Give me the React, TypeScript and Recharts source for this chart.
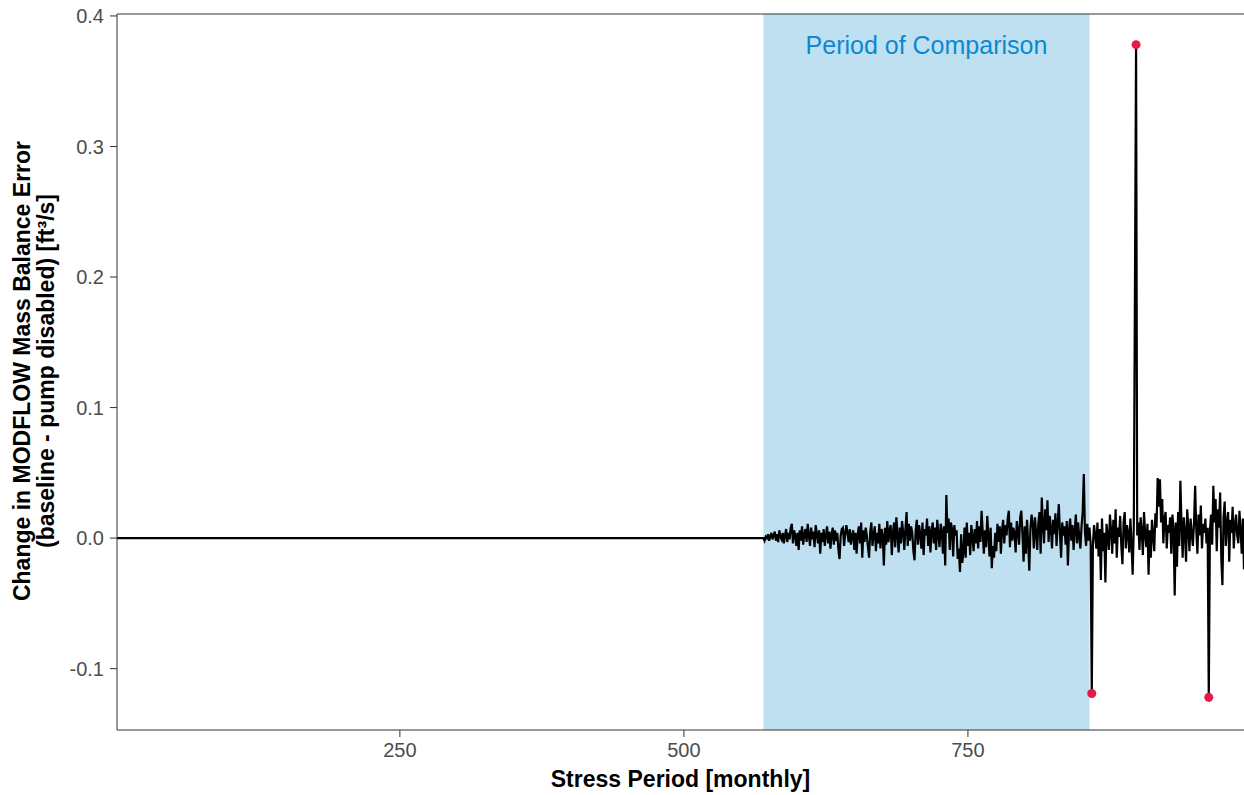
import React from 'react';
import { ComposedChart, Line, Scatter, XAxis, YAxis, ReferenceArea, ReferenceLine } from 'recharts';

// stress periods 1..569 are flat at zero, the noisy record starts at 570
const FLAT_PERIODS = [1, 569];
const NOISE_START = 570;

// change in mass balance error [ft3/s], one value per stress period from 570
const noiseValues = [
  0, -0.002, 0.001, 0.0, 0.003, -0.002, 0.001, 0.004, -0.001, 0.002,
  0.005, -0.002, 0.003, -0.003, 0.006, 0.001, -0.001, 0.004, -0.004, 0.002,
  0.007, -0.003, 0.004, -0.001, 0.008, 0.011, -0.004, 0.006, 0.002, -0.006,
  0.004, -0.009, 0.006, -0.002, 0.009, -0.005, 0.003, 0.007, -0.003, 0.011,
  0.002, -0.006, 0.008, -0.001, 0.005, -0.007, 0.01, 0.003, -0.004, 0.006,
  -0.012, 0.004, -0.003, 0.007, -0.006, 0.002, 0.009, -0.004, 0.005, -0.008,
  0.003, 0.008, -0.005, 0.006, -0.002, 0.004, -0.009, -0.016, 0.002, 0.007,
  0.008, -0.006, 0.003, 0.01, 0.004, -0.003, 0.007, -0.005, 0.002, 0.006,
  -0.009, 0.004, -0.012, 0.003, 0.009, -0.004, 0.012, -0.015, 0.006, -0.003,
  0.008, 0.002, -0.007, -0.015, 0.005, 0.012, -0.006, 0.003, 0.009, -0.01,
  0.004, -0.004, 0.011, -0.008, 0.007, 0.002, -0.021, 0.008, -0.005, 0.013,
  -0.003, 0.006, 0.01, -0.013, 0.004, 0.012, -0.007, 0.016, 0.003, -0.011,
  0.008, -0.004, 0.013, 0.005, -0.009, 0.007, 0.02, -0.006, 0.011, -0.002,
  0.009, 0.004, -0.01, -0.017, 0.006, 0.014, -0.005, 0.01, 0.003, -0.008,
  0.012, -0.013, 0.007, 0.002, 0.015, -0.006, 0.009, -0.011, 0.005, 0.012,
  -0.004, 0.008, -0.009, 0.014, 0.003, -0.007, 0.011, 0.006, -0.012, 0.009,
  -0.021, 0.033, 0.004, 0.015, -0.009, 0.012, 0.007, -0.014, 0.01, 0.002,
  0.006, -0.016, -0.008, -0.026, 0.003, -0.019, -0.011, 0.008, -0.015, 0.012,
  -0.006, 0.004, -0.013, 0.01, 0.001, -0.01, 0.007, -0.004, 0.013, -0.008,
  0.009, -0.003, 0.021, 0.005, -0.012, 0.006, -0.007, 0.017, 0.002, -0.014,
  0.008, -0.023, -0.006, -0.015, 0.004, -0.01, 0.011, -0.003, 0.009, -0.012,
  0.006, 0.014, -0.004, 0.01, 0.002, 0.015, 0.021, -0.007, 0.012, -0.002,
  0.008, 0.004, -0.011, 0.013, 0.006, -0.005, 0.016, 0.021, 0.003, -0.018,
  0.009, -0.012, 0.014, -0.003, -0.025, 0.007, 0.018, 0.011, -0.008, 0.016,
  0.004, -0.009, 0.012, 0.02, -0.012, 0.031, 0.01, -0.004, 0.022, 0.006,
  0.029, -0.003, 0.017, 0.008, -0.008, 0.014, 0.003, 0.019, -0.006, 0.011,
  0.026, 0.004, -0.015, 0.012, 0.002, 0.009, -0.005, 0.013, -0.021, 0.007,
  0.015, -0.002, 0.01, -0.009, 0.006, 0.018, -0.004, 0.012, 0.001, -0.008,
  0.009, 0.02, 0.049, 0.005, -0.006, 0.011, -0.002, 0.008, -0.004, -0.119,
  -0.005, 0.01, 0.002, -0.008, 0.012, -0.014, 0.007, -0.032, 0.015, -0.01,
  0.004, -0.034, 0.011, 0.002, -0.009, 0.018, 0.006, -0.012, 0.014, -0.004,
  0.022, -0.015, 0.008, 0.001, 0.017, -0.006, -0.02, 0.012, 0.02, -0.008,
  0.01, 0.004, -0.011, 0.015, -0.005, -0.028, 0.009, 0.19, 0.378, 0.002,
  0.012, -0.009, 0.016, 0.005, -0.013, 0.02, 0.003, -0.007, 0.011, -0.028,
  0.006, -0.015, 0.014, 0.002, -0.01, 0.019, 0.008, 0.046, 0.024, 0.045,
  0.012, 0.03, -0.004, 0.015, 0.02, -0.008, 0.01, 0.004, 0.016, -0.012,
  0.018, 0.007, -0.044, 0.012, -0.022, 0.02, -0.006, 0.044, 0.01, -0.015,
  0.016, 0.004, -0.018, 0.022, 0.008, -0.01, 0.015, 0.003, -0.006, 0.012,
  0.04, 0.006, -0.012, 0.018, 0.002, 0.025, -0.008, 0.011, 0.004, 0.015,
  -0.004, 0.008, -0.122, 0.006, 0.018, -0.005, 0.04, 0.012, 0.03, -0.01,
  0.022, 0.008, 0.035, -0.015, -0.036, 0.016, 0.028, -0.006, 0.012, 0.02,
  -0.018, 0.014, 0.004, 0.024, -0.008, 0.01, 0.018, 0.002, -0.004, 0.021,
  0.006, -0.012, 0.015, -0.024,
];

const OUTLIER_PERIODS = [859, 898, 962];
const COMPARISON_PERIODS = [570, 857];
const X_TICKS = [250, 500, 750];
const Y_TICKS = [-0.1, 0, 0.1, 0.2, 0.3, 0.4];
const X_DOMAIN = [1, 993];
const Y_DOMAIN = [-0.147, 0.4015];

const lineData = [
  ...FLAT_PERIODS.map(p => ({ period: p, value: 0 })),
  ...noiseValues.map((v, i) => ({ period: NOISE_START + i, value: v })),
];
const outlierData = lineData.filter(d => OUTLIER_PERIODS.includes(d.period));

const FONT = '"Liberation Sans", Arial, sans-serif';
const tickStyle = { fontSize: 20, fill: '#4d4d4d', fontFamily: FONT };

const YTitle = () => (
  <text transform="rotate(-90)" textAnchor="middle" fontWeight="bold" fontSize={23} fill="#000" fontFamily={FONT}>
    <tspan x={-371} y={30}>Change in MODFLOW Mass Balance Error</tspan>
    <tspan x={-371} y={54}>(baseline - pump disabled) [ft³/s]</tspan>
  </text>
);

const XTitle = (props: any) => {
  const vb = props.viewBox || {};
  return (
    <text x={vb.x + vb.width / 2} y={787} textAnchor="middle" fontWeight="bold" fontSize={23} fill="#000" fontFamily={FONT}>
      Stress Period [monthly]
    </text>
  );
};

export default function App() {
  return (
    <div style={{ position: 'absolute', left: 0, top: 0, fontFamily: FONT }}>
      <ComposedChart width={1244} height={795} margin={{ top: 14, right: 0, bottom: 0, left: 0 }}>
        <XAxis
          type="number"
          dataKey="period"
          domain={X_DOMAIN}
          ticks={X_TICKS}
          allowDataOverflow
          height={65}
          tick={tickStyle}
          tickSize={7}
          tickMargin={6}
          axisLine={{ stroke: '#333' }}
          tickLine={{ stroke: '#333' }}
          label={<XTitle />}
        />
        <YAxis
          type="number"
          domain={Y_DOMAIN}
          ticks={Y_TICKS}
          allowDataOverflow
          width={117}
          tick={tickStyle}
          tickSize={7}
          tickMargin={6}
          tickFormatter={(v: number) => v.toFixed(1)}
          axisLine={{ stroke: '#333' }}
          tickLine={{ stroke: '#333' }}
          label={<YTitle />}
        />
        <ReferenceArea
          x1={COMPARISON_PERIODS[0]}
          x2={COMPARISON_PERIODS[1]}
          y1={Y_DOMAIN[0]}
          y2={Y_DOMAIN[1]}
          fill="#bee0f1"
          fillOpacity={1}
          stroke="none"
          label={{ value: 'Period of Comparison', position: 'insideTop', offset: 22, fill: '#0d88d0', fontSize: 25, fontFamily: FONT }}
        />
        <ReferenceLine y={Y_DOMAIN[1]} stroke="#333" />
        <Line
          data={lineData}
          dataKey="value"
          type="linear"
          stroke="#000"
          strokeWidth={2.2}
          dot={false}
          isAnimationActive={false}
        />
        <Scatter data={outlierData} dataKey="value" fill="#e8194a" shape="circle" isAnimationActive={false} />
      </ComposedChart>
    </div>
  );
}
